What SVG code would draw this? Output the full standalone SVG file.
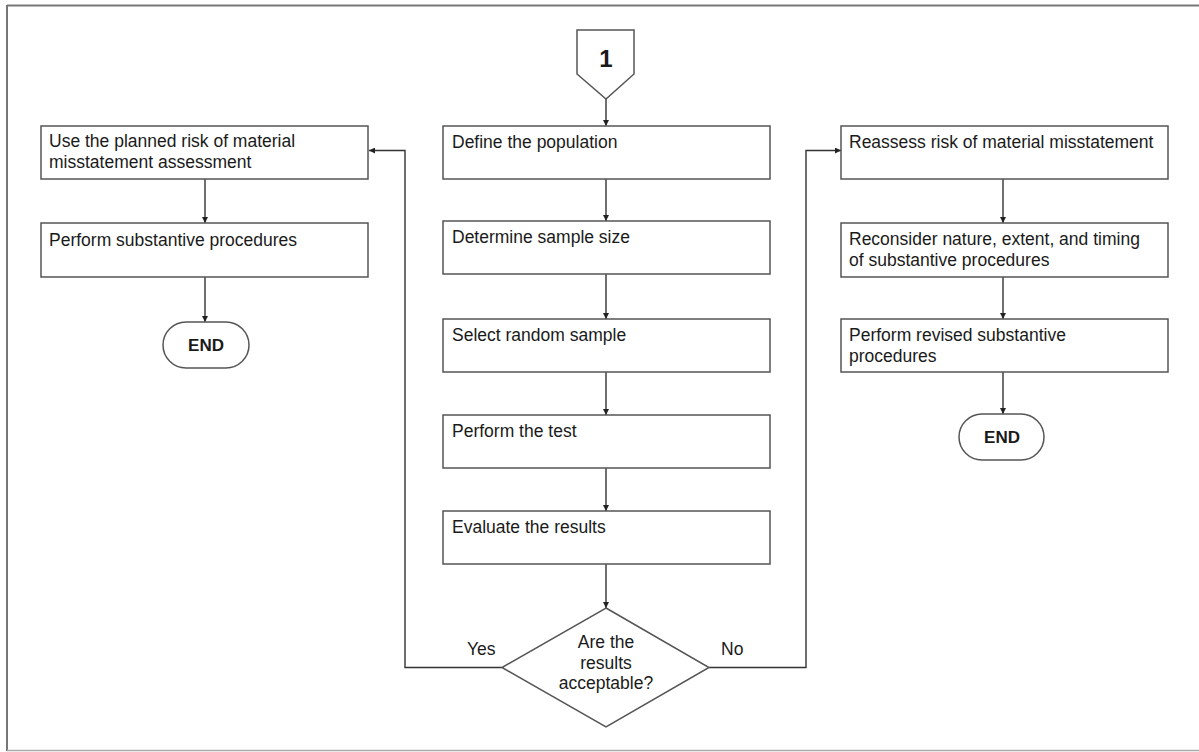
<svg xmlns="http://www.w3.org/2000/svg" width="1199" height="752" viewBox="0 0 1199 752">
<style>
.box{fill:#fff;stroke:#555;stroke-width:1.5}
.t{font-family:"Liberation Sans",Arial,sans-serif;font-size:17.5px;fill:#1a1a1a}
.b{font-family:"Liberation Sans",Arial,sans-serif;font-weight:bold;fill:#1a1a1a}
.c{fill:none;stroke:#333;stroke-width:1.4}
</style>
<defs>
<marker id="ah" viewBox="0 0 10 10" refX="10" refY="5" markerWidth="6" markerHeight="6" markerUnits="userSpaceOnUse" orient="auto">
<path d="M0,0 L10,5 L0,10 z" fill="#222"/>
</marker>
</defs>
<rect width="1199" height="752" fill="#fff"/>
<g id="frame">
<line x1="7" y1="5.5" x2="1199" y2="5.5" stroke="#777" stroke-width="2"/>
<line x1="7" y1="5" x2="7" y2="751" stroke="#777" stroke-width="2"/>
<line x1="7" y1="750.5" x2="1199" y2="750.5" stroke="#aaa" stroke-width="1.5"/>
</g>
<g id="connectors">
<line class="c" x1="606" y1="99" x2="606" y2="126" marker-end="url(#ah)"/>
<line class="c" x1="606" y1="179" x2="606" y2="221" marker-end="url(#ah)"/>
<line class="c" x1="606" y1="274" x2="606" y2="319" marker-end="url(#ah)"/>
<line class="c" x1="606" y1="372" x2="606" y2="415" marker-end="url(#ah)"/>
<line class="c" x1="606" y1="468" x2="606" y2="511" marker-end="url(#ah)"/>
<line class="c" x1="606" y1="564" x2="606" y2="608" marker-end="url(#ah)"/>
<line class="c" x1="205" y1="179" x2="205" y2="223" marker-end="url(#ah)"/>
<line class="c" x1="205" y1="277" x2="205" y2="322" marker-end="url(#ah)"/>
<line class="c" x1="1003" y1="179" x2="1003" y2="223" marker-end="url(#ah)"/>
<line class="c" x1="1003" y1="277" x2="1003" y2="319" marker-end="url(#ah)"/>
<line class="c" x1="1003" y1="372" x2="1003" y2="414" marker-end="url(#ah)"/>
<polyline class="c" points="502,667.5 405,667.5 405,150.5 369,150.5" marker-end="url(#ah)"/>
<polyline class="c" points="709,667.5 806,667.5 806,150.5 841,150.5" marker-end="url(#ah)"/>
<text class="t" x="467" y="655">Yes</text>
<text class="t" x="721" y="655">No</text>
</g>
<g id="start">
<polygon class="box" points="577,30 634,30 634,74 606,99 577,74"/>
<text class="b" x="606" y="66.5" font-size="24" text-anchor="middle">1</text>
</g>
<g id="define">
<rect class="box" x="443" y="126" width="327" height="53"/>
<text class="t" x="452" y="147.5">Define the population</text>
</g>
<g id="size">
<rect class="box" x="443" y="221" width="327" height="53"/>
<text class="t" x="452" y="242.5">Determine sample size</text>
</g>
<g id="select">
<rect class="box" x="443" y="319" width="327" height="53"/>
<text class="t" x="452" y="340.5">Select random sample</text>
</g>
<g id="test">
<rect class="box" x="443" y="415" width="327" height="53"/>
<text class="t" x="452" y="436.5">Perform the test</text>
</g>
<g id="evaluate">
<rect class="box" x="443" y="511" width="327" height="53"/>
<text class="t" x="452" y="532.5">Evaluate the results</text>
</g>
<g id="decision">
<polygon class="box" points="606,608 709,667.5 606,727 502,667.5"/>
<text class="t" x="606" y="647.5" text-anchor="middle">Are the</text>
<text class="t" x="606" y="668.5" text-anchor="middle">results</text>
<text class="t" x="606" y="689" text-anchor="middle">acceptable?</text>
</g>
<g id="use-planned">
<rect class="box" x="41" y="126" width="327" height="53"/>
<text class="t" x="49" y="147">Use the planned risk of material</text>
<text class="t" x="49" y="168">misstatement assessment</text>
</g>
<g id="perform-sub">
<rect class="box" x="41" y="223" width="327" height="54"/>
<text class="t" x="49" y="245.5">Perform substantive procedures</text>
</g>
<g id="end-left">
<rect class="box" x="163" y="322" width="86" height="46" rx="23"/>
<text class="b" x="206" y="350.5" font-size="17" text-anchor="middle">END</text>
</g>
<g id="reassess">
<rect class="box" x="841" y="126" width="327" height="53"/>
<text class="t" x="849" y="147.5">Reassess risk of material misstatement</text>
</g>
<g id="reconsider">
<rect class="box" x="841" y="223" width="327" height="54"/>
<text class="t" x="849" y="245">Reconsider nature, extent, and timing</text>
<text class="t" x="849" y="266">of substantive procedures</text>
</g>
<g id="revised">
<rect class="box" x="841" y="319" width="327" height="53"/>
<text class="t" x="849" y="340.5">Perform revised substantive</text>
<text class="t" x="849" y="361.5">procedures</text>
</g>
<g id="end-right">
<rect class="box" x="959" y="414" width="85" height="46" rx="23"/>
<text class="b" x="1002" y="442.5" font-size="17" text-anchor="middle">END</text>
</g>
</svg>
